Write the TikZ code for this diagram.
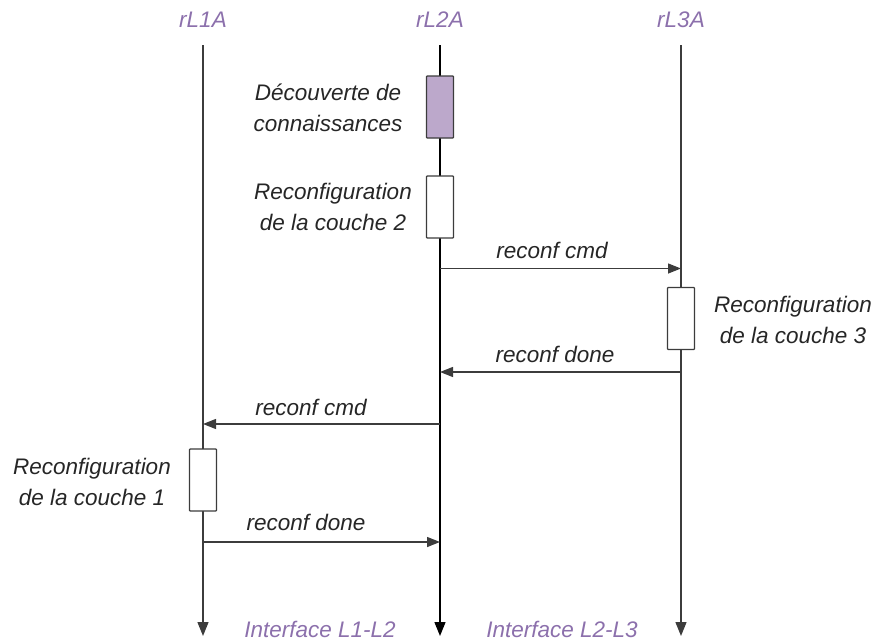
\documentclass[tikz,border=0pt]{standalone}
\usepackage{fontspec}
\setmainfont{Liberation Sans}
\usetikzlibrary{arrows.meta}
\definecolor{lblpurple}{RGB}{140,112,172}
\definecolor{boxpurple}{RGB}{188,168,203}
\definecolor{linegray}{RGB}{60,60,60}
\begin{document}
\begin{tikzpicture}[x=1pt,y=-1pt,
  txt/.style={font=\fontsize{22.5}{31}\selectfont\itshape, text=black!85, align=center, inner sep=0pt},
  head/.style={font=\fontsize{22.5}{26}\selectfont\itshape, text=lblpurple, inner sep=0pt},
  life/.style={draw=linegray, line width=1.4pt, -{Triangle[length=14pt,width=11pt]}},
  actbox/.style={draw=linegray, line width=1.3pt, fill=white, minimum width=27pt, minimum height=62pt, inner sep=0pt, rounded corners=0.8pt},
  msg/.style={draw=linegray, line width=1.4pt, -{Triangle[length=13pt,width=10pt]}}
]
\useasboundingbox (0,0) rectangle (876,640);
% heads
\node[head] (h1) at (203,20) {rL1A};
\node[head] (h2) at (440,20) {rL2A};
\node[head] (h3) at (681,20) {rL3A};
\coordinate (t1) at (203,45);
\coordinate (t2) at (440,45);
\coordinate (t3) at (681,45);
\coordinate (e1) at (203,636);
\coordinate (e2) at (440,636);
\coordinate (e3) at (681,636);
\draw[life] (t1) -- (e1);
\draw[life, draw=black] (t2) -- (e2);
\draw[life] (t3) -- (e3);
% activation boxes
\node[actbox, fill=boxpurple] (b1) at (440,107) {};
\node[actbox] (b2) at (440,207) {};
\node[actbox] (b3) at (681,318.5) {};
\node[actbox] (b4) at (203,480) {};
% box labels
\node[txt] (l1) at (328,107.5) {Découverte de\\connaissances};
\node[txt] (l2) at (333,206.5) {Reconfiguration\\de la couche 2};
\node[txt] (l3) at (793,320) {Reconfiguration\\de la couche 3};
\node[txt] (l4) at (92,481.5) {Reconfiguration\\de la couche 1};
% messages
\coordinate (m1a) at (440,268.5);
\coordinate (m1b) at (681,268.5);
\coordinate (m2a) at (681,372);
\coordinate (m2b) at (440,372);
\coordinate (m3a) at (440,424);
\coordinate (m3b) at (203,424);
\coordinate (m4a) at (203,542);
\coordinate (m4b) at (440,542);
\draw[msg] (m1a) -- (m1b);
\draw[msg] (m2a) -- (m2b);
\draw[msg] (m3a) -- (m3b);
\draw[msg] (m4a) -- (m4b);
\node[txt] (c1) at (552,250) {reconf cmd};
\node[txt] (c2) at (555,354) {reconf done};
\node[txt] (c3) at (311,407) {reconf cmd};
\node[txt] (c4) at (306,522) {reconf done};
% interfaces
\node[head] (i1) at (320,629) {Interface L1-L2};
\node[head] (i2) at (562,629) {Interface L2-L3};
\end{tikzpicture}
\end{document}
